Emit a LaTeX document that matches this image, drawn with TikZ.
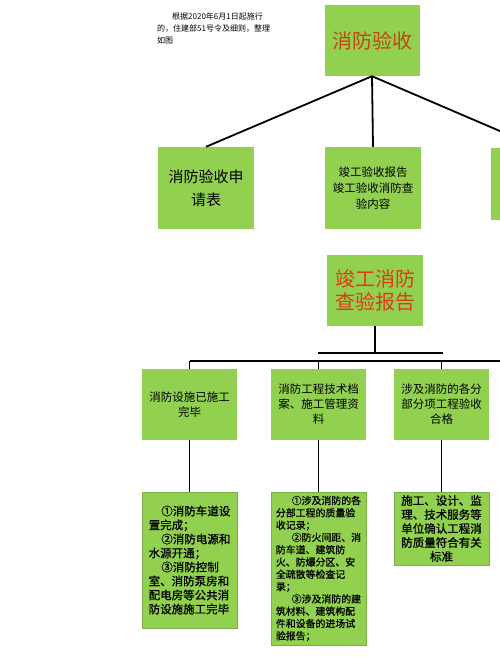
\documentclass[tikz,border=0pt]{standalone}
\usepackage{fontspec}
\setmainfont{Noto Sans CJK SC}
\newfontfamily\semibold[FakeBold=0.9]{Noto Sans CJK SC}
\definecolor{boxgreen}{RGB}{146,208,80}
\definecolor{edgegreen}{RGB}{120,175,70}
\definecolor{titleA}{RGB}{196,70,22}
\definecolor{titleB}{RGB}{222,58,22}
\begin{document}
\begin{tikzpicture}[x=1pt,y=-1pt,
  gbox/.style={fill=boxgreen, draw=none, inner sep=0pt, align=center},
  lbox/.style={fill=boxgreen, draw=edgegreen, line width=0.6pt, inner sep=0pt},
  conn/.style={line width=1.8pt, black},
  bigtitle/.style={font=\fontsize{20}{23}\selectfont},
]
\useasboundingbox (0,0) rectangle (500,672);

% note text
\node[anchor=north west, inner sep=0pt, align=left, font=\fontsize{8}{12}\selectfont] (note) at (157,13)
  {\hspace*{15pt}根据2020年6月1日起施行\\的，住建部51号令及细则，整理\\如图};

% top level
\node[gbox, minimum width=95pt, minimum height=71pt, text=titleA, bigtitle] (top) at (372,40.5) {消防验收};

\node[gbox, minimum width=96pt, minimum height=82pt, font=\fontsize{15}{23}\selectfont] (l2) at (206,188) {消防验收申\\请表};
\node[gbox, minimum width=96pt, minimum height=82pt, font=\fontsize{11.5}{16}\selectfont] (m2) at (373,188) {竣工验收报告\\竣工验收消防查\\验内容};
\node[gbox, minimum width=96pt, minimum height=72pt] (r2) at (539,184) {};

\draw[conn] (top.south) -- (l2.north);
\draw[conn] (top.south) -- (m2.north);
\draw[conn] (top.south) -- (r2.north);

% second tree
\node[gbox, minimum width=96pt, minimum height=71pt, text=titleB, bigtitle] (jg) at (375,290.5) {竣工消防\\查验报告};

\coordinate (barL) at (318,353);
\coordinate (barR) at (443,353);
\coordinate (barM) at (375,353);
\draw[conn] (jg.south) -- (barM);
\draw[conn] (barL) -- (barR);

\node[gbox, minimum width=95pt, minimum height=71pt, font=\fontsize{11.5}{15}\selectfont] (a3) at (189.5,404.5) {消防设施已施工\\完毕};
\node[gbox, minimum width=95pt, minimum height=71pt, font=\fontsize{11.5}{15}\selectfont] (b3) at (318.5,404.5) {消防工程技术档\\案、施工管理资\\料};
\node[gbox, minimum width=95pt, minimum height=71pt, font=\fontsize{11.5}{15}\selectfont] (c3) at (441.5,404.5) {涉及消防的各分\\部分项工程验收\\合格};

\coordinate (lineL) at (a3.north |- 0,361);
\coordinate (lineR) at (510,361);
\draw[conn] (lineL) -- (lineR);
\draw[conn] (lineL) -- (a3.north);
\draw[conn] (b3.north |- 0,361) -- (b3.north);
\draw[conn] (c3.north |- 0,361) -- (c3.north);

% bottom level
\node[lbox, minimum width=95pt, minimum height=136pt] (a4) at (189.5,560) {};
\node[anchor=center, inner sep=0pt, align=left, font=\semibold\fontsize{11.5}{14}\selectfont] (a4t) at (a4.center)
  {\hspace*{1.1em}①消防车道设\\置完成；\\\hspace*{1.1em}②消防电源和\\水源开通；\\\hspace*{1.1em}③消防控制\\室、消防泵房和\\配电房等公共消\\防设施施工完毕};

\node[lbox, minimum width=95pt, minimum height=153pt] (b4) at (318.5,568.5) {};
\node[anchor=center, inner sep=0pt, align=left, font=\semibold\fontsize{9.9}{12.3}\selectfont] (b4t) at (b4.center)
  {\hspace*{1.6em}①涉及消防的各\\分部工程的质量验\\收记录；\\\hspace*{1.6em}②防火间距、消\\防车道、建筑防\\火、防爆分区、安\\全疏散等检查记\\录；\\\hspace*{1.6em}③涉及消防的建\\筑材料、建筑构配\\件和设备的进场试\\验报告；};

\node[lbox, minimum width=95pt, minimum height=73pt, align=center, font=\semibold\fontsize{11.5}{14}\selectfont] (c4) at (441.5,528.5)
  {施工、设计、监\\理、技术服务等\\单位确认工程消\\防质量符合有关\\标准};

\draw[conn] (a3.south) -- (a4.north);
\draw[conn] (b3.south) -- (b4.north);
\draw[conn] (c3.south) -- (c4.north);
\end{tikzpicture}
\end{document}
